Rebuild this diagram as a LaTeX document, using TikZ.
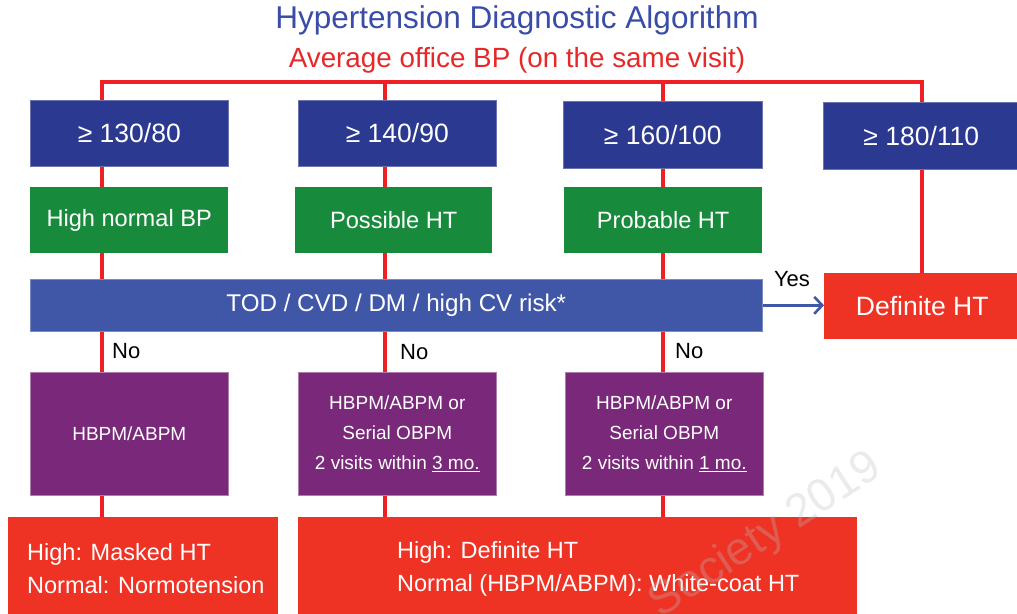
\documentclass[tikz,border=0pt]{standalone}
\usepackage{fontspec}
\setmainfont{Liberation Sans}
\usetikzlibrary{arrows.meta,calc}
\definecolor{navy}{RGB}{43,57,144}
\definecolor{boxgreen}{RGB}{24,138,60}
\definecolor{todblue}{RGB}{64,87,167}
\definecolor{boxred}{RGB}{238,50,36}
\definecolor{boxpurple}{RGB}{121,40,122}
\definecolor{linered}{RGB}{237,32,36}
\definecolor{titleblue}{RGB}{56,76,168}
\definecolor{subred}{RGB}{232,40,40}
\definecolor{wmgray}{RGB}{190,190,190}
\begin{document}
\begin{tikzpicture}[x=1pt,y=-1pt,
  basebox/.style={inner sep=0pt, anchor=north west, text=white, align=center},
  navybox/.style={basebox, fill=navy, draw=navy!70!white, line width=0.6pt, font=\fontsize{26.5}{30}\selectfont},
  greenbox/.style={basebox, fill=boxgreen, font=\fontsize{23.6}{28}\selectfont},
  todbox/.style={basebox, fill=todblue, draw=todblue!70!white, line width=0.6pt, font=\fontsize{24.2}{28}\selectfont},
  purplebox/.style={basebox, fill=boxpurple, draw=boxpurple!60!white, line width=0.6pt, font=\fontsize{19}{30}\selectfont},
  redbox/.style={basebox, fill=boxred, font=\fontsize{26.5}{30}\selectfont},
  redtext/.style={inner sep=0pt, anchor=west, text=white, align=left, font=\fontsize{23.5}{33}\selectfont},
  redline/.style={draw=linered, line width=3.3pt},
  lbl/.style={inner sep=0pt, text=black, font=\fontsize{22}{26}\selectfont},
  yesarrow/.style={draw=todblue, line width=2.6pt, -{Straight Barb[length=8pt,width=17pt]}}
]
\clip (0,0) rectangle (1017,613);
\fill[white] (0,0) rectangle (1017,613);

% title
\node[inner sep=0pt, text=titleblue, font=\fontsize{31.5}{36}\selectfont] (title) at (517,20) {Hypertension Diagnostic Algorithm};
\node[inner sep=0pt, text=subred, font=\fontsize{27.8}{32}\selectfont] (sub) at (517,60) {Average office BP (on the same visit)};

% coordinates of the columns
\coordinate (c1) at (102,82);
\coordinate (c2) at (385,82);
\coordinate (c3) at (663,82);
\coordinate (c4) at (922,82);

% top row
\node[navybox, minimum width=198pt, minimum height=66pt] (b1) at (30,100) {≥ 130/80};
\node[navybox, minimum width=198pt, minimum height=66pt] (b2) at (298,100) {≥ 140/90};
\node[navybox, minimum width=199pt, minimum height=67pt] (b3) at (563,101) {≥ 160/100};
\node[navybox, minimum width=196pt, minimum height=67pt] (b4) at (823,102) {≥ 180/110};

% green row
\node[greenbox, minimum width=198pt, minimum height=66pt] (g1) at (30,187) {High normal BP};
\node[greenbox, minimum width=197pt, minimum height=66pt] (g2) at (295,187) {Possible HT};
\node[greenbox, minimum width=198pt, minimum height=66pt] (g3) at (564,187) {Probable HT};

% TOD bar
\node[todbox, minimum width=732pt, minimum height=52pt] (tod) at (30,279) {TOD / CVD / DM / high CV risk*};
\node[redbox, minimum width=196pt, minimum height=66pt] (dht) at (824,273) {Definite HT};

% purple row
\node[purplebox, minimum width=198pt, minimum height=123pt] (p1) at (30,372) {HBPM/ABPM};
\node[purplebox, minimum width=198pt, minimum height=123pt] (p2) at (298,372) {HBPM/ABPM or\\Serial OBPM\\2 visits within \underline{3 mo.}};
\node[purplebox, minimum width=198pt, minimum height=123pt] (p3) at (565,372) {HBPM/ABPM or\\Serial OBPM\\2 visits within \underline{1 mo.}};

% bottom red row
\node[redbox, minimum width=270pt, minimum height=100pt] (r1) at (8,517) {};
\node[redbox, minimum width=559pt, minimum height=100pt] (r2) at (298,517) {};
\node[redtext] (r1t) at (27,569) {High: Masked HT\\Normal: Normotension};
\node[redtext] (r2t) at (397,569) {High: Definite HT\\Normal (HBPM/ABPM): White-coat HT};

% connectors
\draw[redline] (b1.north -| c1) -- (c1) -- (c4) -- (b4.north -| c4);
\draw[redline] (c2) -- (b2.north -| c2);
\draw[redline] (c3) -- (b3.north -| c3);
\draw[redline] (b1.south -| c1) -- (g1.north -| c1);
\draw[redline] (b2.south -| c2) -- (g2.north -| c2);
\draw[redline] (b3.south -| c3) -- (g3.north -| c3);
\draw[redline] (g1.south -| c1) -- (tod.north -| c1);
\draw[redline] (g2.south -| c2) -- (tod.north -| c2);
\draw[redline] (g3.south -| c3) -- (tod.north -| c3);
\draw[redline] (b4.south -| c4) -- (dht.north -| c4);
\draw[redline] (tod.south -| c1) -- (p1.north -| c1);
\draw[redline] (tod.south -| c2) -- (p2.north -| c2);
\draw[redline] (tod.south -| c3) -- (p3.north -| c3);
\draw[redline] (p1.south -| c1) -- (r1.north -| c1);
\draw[redline] (p2.south -| c2) -- (r2.north -| c2);
\draw[redline] (p3.south -| c3) -- (r2.north -| c3);
\draw[yesarrow] (tod.east) -- (tod.east -| dht.west);

% labels
\node[lbl] (yes) at (792,279) {Yes};
\node[lbl, anchor=west] (no1) at (112,351) {No};
\node[lbl, anchor=west] (no2) at (400,352) {No};
\node[lbl, anchor=west] (no3) at (675,351) {No};

% watermark
\node[inner sep=0pt, rotate=33, text=wmgray, opacity=0.3, font=\fontsize{46}{46}\selectfont] (wm) at (766,536) {Society 2019};
\end{tikzpicture}
\end{document}
